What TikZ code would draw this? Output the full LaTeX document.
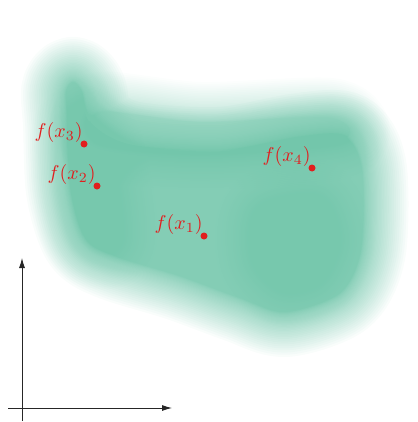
\documentclass[tikz,border=0pt]{standalone}
\usetikzlibrary{arrows.meta}
\definecolor{blobcol}{RGB}{100,192,162}
\definecolor{ptred}{RGB}{225,30,30}
\newcommand\softblob[4]{%
  \foreach \k in {1,...,40}{%
    \begin{scope}[transparency group, opacity=#3]
      \path[fill=#1, draw=#1, line width={#2*(\k/40)^2}, line join=round] #4;
    \end{scope}}}
\tikzset{
  dot/.style={circle, fill=ptred, inner sep=0pt, minimum size=7pt},
  lab/.style={text=ptred, scale=2, inner sep=0pt, anchor=south east},
  axis/.style={line width=0.9pt, draw=black!85, -{Latex[length=10pt,width=6pt]}}
}
\begin{document}
\begin{tikzpicture}[x=1pt,y=-1pt]
\useasboundingbox (0,0) rectangle (417,422);
% main soft blob
\softblob{blobcol}{90}{0.04}{plot[smooth cycle] coordinates {(66,92) (73,82) (82,92) (90,124) (130,146) (220,152) (300,138) (345,137) (362,170) (361,250) (340,293) (285,312) (240,298) (180,276) (115,256) (86,238) (71,190) (68,124)}}
% paler top band
\softblob{blobcol}{80}{0.018}{plot[smooth cycle] coordinates {(100,112) (200,122) (330,118) (340,140) (200,150) (100,140)}}
% darker cores
\softblob{blobcol}{90}{0.015}{plot[smooth cycle] coordinates {(78,130) (98,145) (110,200) (112,240) (95,242) (82,220) (76,160)}}
\softblob{blobcol}{90}{0.015}{plot[smooth cycle] coordinates {(265,215) (315,205) (330,240) (315,275) (285,282) (262,258)}}
% axes
\coordinate (ybot) at (22,421);
\coordinate (ytop) at (22,258);
\coordinate (xleft) at (8,408);
\coordinate (xright) at (172,408);
\draw[axis] (ybot) -- (ytop);
\draw[axis] (xleft) -- (xright);
% points
\node[dot] (d1) at (204,236) {};
\node[dot] (d2) at (97,186) {};
\node[dot] (d3) at (84,144) {};
\node[dot] (d4) at (312,168) {};
\node[lab] (l1) at ([shift={(-1,-1)}]d1.center) {$f(x_1)$};
\node[lab] (l2) at ([shift={(-1,-1)}]d2.center) {$f(x_2)$};
\node[lab] (l3) at ([shift={(-1,-1)}]d3.center) {$f(x_3)$};
\node[lab] (l4) at ([shift={(-1,-1)}]d4.center) {$f(x_4)$};
\end{tikzpicture}
\end{document}
